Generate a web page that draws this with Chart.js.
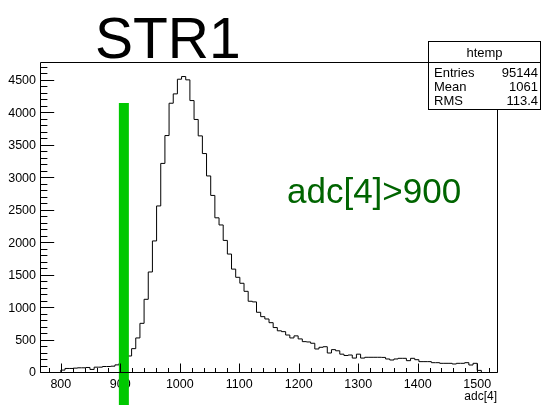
<!DOCTYPE html>
<html><head><meta charset="utf-8">
<script src="https://cdn.jsdelivr.net/npm/chart.js@4"></script>
<style>html,body{margin:0;padding:0;background:#fff;overflow:hidden}canvas{display:block}</style>
</head><body>
<canvas id="c" width="547" height="405"></canvas>
<script>
// ---- data ----
const axisRangeX = [765, 1535];
const axisRangeY = [0, 4790];
const binLowEdges = [800,807,814,821,828,835,842,849,856,863,870,877,884,891,898,905,912,919,926,933,940,947,954,961,968,975,982,989,996,1003,1010,1017,1024,1031,1038,1045,1052,1059,1066,1073,1080,1087,1094,1101,1108,1115,1122,1129,1136,1143,1150,1157,1164,1171,1178,1185,1192,1199,1206,1213,1220,1227,1234,1241,1248,1255,1262,1269,1276,1283,1290,1297,1304,1311,1318,1325,1332,1339,1346,1353,1360,1367,1374,1381,1388,1395,1402,1409,1416,1423,1430,1437,1444,1451,1458,1465,1472,1479,1486,1493,1500];
const binUpperEdge = 1507;
const binCounts = [45,70,70,75,80,80,85,55,90,90,100,100,105,125,150,200,262,375,540,765,1135,1556,2034,2573,3228,3657,4155,4299,4525,4566,4515,4196,3905,3652,3380,3035,2735,2390,2280,2042,1832,1600,1474,1382,1258,1105,1095,935,868,832,775,700,650,637,585,540,572,525,483,478,458,370,396,405,308,360,342,290,270,277,230,290,230,242,242,242,242,240,216,200,216,226,226,190,226,205,175,175,175,159,159,149,149,149,139,149,149,159,123,149,40];
const xTickValues = [800,900,1000,1100,1200,1300,1400,1500];
const yTickValues = [0,500,1000,1500,2000,2500,3000,3500,4000,4500];
const cutMarkX = [906, 906];
const cutMarkY = [4160, -500];
const statsTitle = 'htemp';
const statsLabels = ['Entries','Mean','RMS'];
const statsValues = ['95144','1061','113.4'];
const titleText = 'STR1';
const cutText = 'adc[4]>900';
const xAxisTitle = 'adc[4]';

// ---- build ----
const histPoints = [{x: axisRangeX[0], y: 0}];
binLowEdges.forEach((e, i) => histPoints.push({x: e, y: binCounts[i]}));
histPoints.push({x: binUpperEdge, y: 0});
histPoints.push({x: axisRangeX[1], y: 0});
const cutPoints = cutMarkX.map((x, i) => ({x, y: cutMarkY[i]}));

const FONT = "'Liberation Sans', Arial, Helvetica, sans-serif";

const rootDecor = {
  id: 'rootDecor',
  afterDatasetsDraw(chart) {
    const {ctx, chartArea: a, scales: {x, y}} = chart;
    ctx.save();
    ctx.strokeStyle = '#000';
    ctx.lineWidth = 1;
    ctx.beginPath();
    ctx.rect(a.left + 0.5, a.top + 0.5, a.right - a.left - 1, a.bottom - a.top - 1);
    for (let v = 780; v <= 1520; v += 20) {
      const px = Math.round(x.getPixelForValue(v)) + 0.5;
      const len = (v % 100 === 0) ? 9 : 4.5;
      ctx.moveTo(px, a.bottom - 0.5);
      ctx.lineTo(px, a.bottom - 0.5 - len);
    }
    for (let v = 0; v <= 4700; v += 100) {
      const py = Math.round(y.getPixelForValue(v)) - 0.5;
      const len = (v % 500 === 0) ? 13.7 : 6.9;
      ctx.moveTo(a.left + 0.5, py);
      ctx.lineTo(a.left + 0.5 + len, py);
    }
    ctx.stroke();
    ctx.restore();
  },
  afterDraw(chart) {
    const {ctx} = chart;
    ctx.save();
    ctx.fillStyle = '#fff';
    ctx.fillRect(428.5, 41.5, 112, 68);
    ctx.strokeStyle = '#000';
    ctx.lineWidth = 1;
    ctx.strokeRect(428.5, 41.5, 112, 68);
    ctx.beginPath();
    ctx.moveTo(428.5, 62.5); ctx.lineTo(540.5, 62.5);
    ctx.stroke();
    ctx.fillStyle = '#000';
    ctx.font = '13px ' + FONT;
    ctx.textBaseline = 'alphabetic';
    ctx.textAlign = 'center';
    ctx.fillText(statsTitle, 484.5, 57);
    statsLabels.forEach((l, i) => {
      const by = 77 + i * 14.2;
      ctx.textAlign = 'left';
      ctx.fillText(l, 434, by);
      ctx.textAlign = 'right';
      ctx.fillText(statsValues[i], 538, by);
    });
    ctx.textAlign = 'left';
    ctx.font = '300 57px ' + FONT;
    ctx.fillText(titleText, 95, 58);
    ctx.fillStyle = '#006400';
    ctx.font = '35px ' + FONT;
    ctx.fillText(cutText, 287, 203);
    ctx.fillStyle = '#000';
    ctx.font = '12px ' + FONT;
    ctx.textAlign = 'right';
    ctx.fillText(xAxisTitle, 497, 400);
    ctx.restore();
  }
};

new Chart(document.getElementById('c'), {
  type: 'line',
  data: {
    datasets: [
      {
        data: cutPoints,
        borderColor: 'rgb(0,200,0)',
        borderWidth: 10,
        pointRadius: 0,
        clip: false,
        order: 0
      },
      {
        data: histPoints,
        stepped: true,
        borderColor: '#000',
        borderWidth: 1,
        pointRadius: 0,
        fill: false,
        order: 1
      }
    ]
  },
  options: {
    responsive: false,
    animation: false,
    devicePixelRatio: 1,
    layout: {padding: {top: 62, right: 49, left: 0, bottom: 0}},
    plugins: {legend: {display: false}, tooltip: {enabled: false}, title: {display: false}},
    scales: {
      x: {
        type: 'linear',
        min: axisRangeX[0], max: axisRangeX[1],
        afterBuildTicks: s => { s.ticks = xTickValues.map(v => ({value: v})); },
        afterFit: s => { s.height = 32; },
        grid: {display: false, drawTicks: false},
        border: {display: false},
        ticks: {color: '#000', font: {family: FONT, size: 12.5}, padding: 4, maxRotation: 0, autoSkip: false, callback: v => String(v)}
      },
      y: {
        type: 'linear',
        min: axisRangeY[0], max: axisRangeY[1],
        afterBuildTicks: s => { s.ticks = yTickValues.map(v => ({value: v})); },
        afterFit: s => { s.width = 40; },
        grid: {display: false, drawTicks: false},
        border: {display: false},
        ticks: {color: '#000', font: {family: FONT, size: 12.5}, padding: 4, autoSkip: false, callback: v => String(v)}
      }
    }
  },
  plugins: [rootDecor]
});
</script>
</body></html>
